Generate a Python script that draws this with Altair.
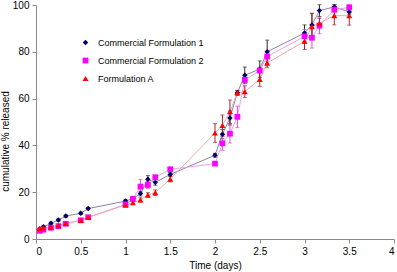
import altair as alt
import pandas as pd

times = [0.042, 0.083, 0.167, 0.25, 0.333, 0.5, 0.583, 1.0, 1.083, 1.167, 1.25, 1.333, 1.5,
         2.0, 2.083, 2.167, 2.25, 2.333, 2.5, 2.583, 3.0, 3.083, 3.167, 3.333, 3.5]

cf1 = [4.2, 5.2, 6.7, 8.1, 9.8, 11.0, 13.0, 16.2, 17.3, 19.4, 25.5, 24.2, 27.6,
       35.8, 44.8, 51.7, 62.5, 70.0, 72.6, 80.0, 88.0, 91.5, 97.6, 99.2, 97.0]
cf1_sd = [0.4, 0.4, 0.5, 0.5, 0.5, 0.5, 0.5, 0.6, 0.8, 1.0, 1.6, 1.2, 0.8,
          0.8, 2.0, 3.0, 1.0, 3.5, 3.5, 5.0, 3.5, 5.0, 2.5, 1.0, 1.0]

cf2 = [3.5, 4.0, 4.8, 5.5, 6.5, 8.0, 9.3, 14.8, 17.1, 22.4, 23.1, 26.4, 29.8,
       32.2, 40.9, 45.0, 52.2, 68.0, 72.0, 78.0, 86.6, 86.0, 91.2, 98.0, 99.0]
cf2_sd = [0.3, 0.3, 0.4, 0.4, 0.4, 0.5, 0.5, 0.6, 0.8, 3.0, 1.5, 0.8, 0.8,
          0.8, 3.0, 4.0, 4.6, 1.0, 1.0, 2.0, 3.0, 4.4, 3.5, 1.0, 1.0]

fa = [4.5, 4.8, 5.1, 5.8, 6.7, 8.0, 9.3, 14.5, 15.5, 16.7, 18.8, 19.8, 25.6,
      45.3, 48.5, 54.4, 62.5, 63.0, 68.2, 75.2, 84.5, 90.8, 92.2, 95.5, 95.4]
fa_sd = [0.3, 0.3, 0.4, 0.4, 0.4, 0.5, 0.5, 0.6, 0.8, 0.9, 1.0, 1.2, 1.2,
         4.0, 4.5, 5.0, 1.0, 2.5, 3.0, 2.0, 3.5, 5.5, 2.0, 4.0, 4.0]

series_names = ["Commercial Formulation 1", "Commercial Formulation 2", "Formulation A"]
marker_colors = ["#000066", "#ff00ff", "#ff0000"]
line_colors = ["#8585aa", "#e9a0ea", "#efaab0"]
err_colors = ["#2a2a2a", "#d050d0", "#a02828"]
shapes = ["diamond", "square", "triangle-up"]
sizes = [30, 36, 34]

rows = []
for name, vals, sds in zip(series_names, [cf1, cf2, fa], [cf1_sd, cf2_sd, fa_sd]):
    for t, v, s in zip(times, vals, sds):
        rows.append({"series": name, "t": t, "v": v, "lo": v - s, "hi": v + s})
df = pd.DataFrame(rows)

font = "Liberation Sans"
xs = alt.Scale(domain=[0, 4], nice=False)
ys = alt.Scale(domain=[0, 100], nice=False)

base = alt.Chart(df)

x_enc = alt.X("t:Q", scale=xs, axis=alt.Axis(
    values=[0, 0.5, 1, 1.5, 2, 2.5, 3, 3.5, 4], format="~g", title="Time (days)",
    titleY=26, titleBaseline="middle"))
y_enc = alt.Y("v:Q", scale=ys, axis=alt.Axis(
    values=[0, 20, 40, 60, 80, 100], title="cumulative % released",
    titleX=-31, titleY=136, titleAngle=-90, titleAlign="center", titleBaseline="middle"))

layers = []
for name, lc in zip(series_names, line_colors):
    sub = base.transform_filter(alt.datum.series == name)
    layers.append(sub.mark_line(strokeWidth=1, color=lc).encode(x=x_enc, y=y_enc))
for name, ec in zip(series_names, err_colors):
    sub = base.transform_filter(alt.datum.series == name)
    layers.append(sub.mark_rule(strokeWidth=1, color=ec).encode(x="t:Q", y="lo:Q", y2="hi:Q"))
    layers.append(sub.mark_tick(thickness=1, size=4, orient="horizontal", color=ec).encode(x="t:Q", y="hi:Q"))
    layers.append(sub.mark_tick(thickness=1, size=4, orient="horizontal", color=ec).encode(x="t:Q", y="lo:Q"))

leg = alt.Legend(title=None, orient="none", legendX=45, legendY=33)
points = base.mark_point(filled=True, opacity=1).encode(
    x="t:Q", y="v:Q",
    color=alt.Color("series:N", scale=alt.Scale(domain=series_names, range=marker_colors), legend=leg),
    shape=alt.Shape("series:N", scale=alt.Scale(domain=series_names, range=shapes), legend=leg),
    size=alt.Size("series:N", scale=alt.Scale(domain=series_names, range=sizes), legend=None),
)
layers.append(points)

chart = alt.layer(*layers).properties(
    width=358, height=234,
    autosize=alt.AutoSizeParams(type="none"),
    padding={"left": 36, "top": 5, "right": 3, "bottom": 33},
).configure_view(stroke=None).configure_axis(
    grid=False, domainColor="#8a8a8a", tickColor="#8a8a8a", tickSize=4,
    labelFont=font, labelFontSize=10, labelColor="#000000",
    titleFont=font, titleFontSize=10, titleColor="#000000", titleFontWeight="normal",
    labelPadding=3,
).configure_legend(
    labelFont=font, labelFontSize=9, labelColor="#000000", symbolSize=36,
    rowPadding=8, padding=0, labelOffset=8,
)

chart.save("out.html", embed_options={"renderer": "svg", "actions": False})
